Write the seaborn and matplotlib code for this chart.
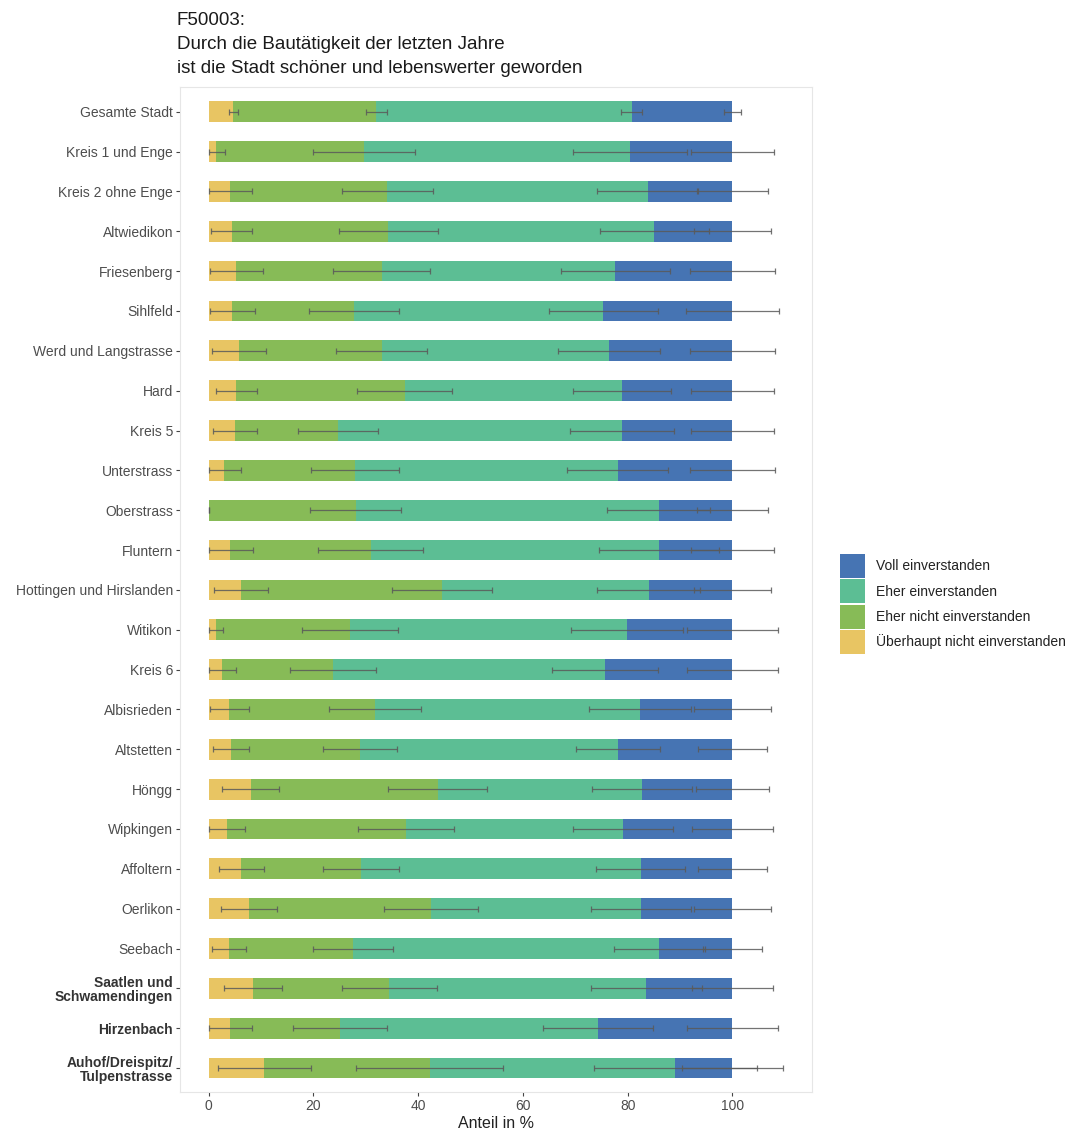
import numpy as np
import pandas as pd
import matplotlib
matplotlib.use("Agg")
import matplotlib.pyplot as plt
from matplotlib.patches import Patch
import seaborn as sns

sns.set_theme(style="white")
plt.rcParams["font.family"] = ["Liberation Sans", "DejaVu Sans"]

regions = [
    "Gesamte Stadt", "Kreis 1 und Enge", "Kreis 2 ohne Enge", "Altwiedikon",
    "Friesenberg", "Sihlfeld", "Werd und Langstrasse", "Hard", "Kreis 5",
    "Unterstrass", "Oberstrass", "Fluntern", "Hottingen und Hirslanden",
    "Witikon", "Kreis 6", "Albisrieden", "Altstetten", "Höngg", "Wipkingen",
    "Affoltern", "Oerlikon", "Seebach", "Saatlen und\nSchwamendingen",
    "Hirzenbach", "Auhof/Dreispitz/\nTulpenstrasse",
]
bold_regions = ["Saatlen und\nSchwamendingen", "Hirzenbach", "Auhof/Dreispitz/\nTulpenstrasse"]

categories = ["Überhaupt nicht einverstanden", "Eher nicht einverstanden",
              "Eher einverstanden", "Voll einverstanden"]

# shares in percent per answer category
share_ueberhaupt_nicht = [4.7, 1.4, 4.1, 4.4, 5.3, 4.5, 5.8, 5.3, 5.1, 2.9, 0.0, 4.0, 6.2,
                          1.3, 2.6, 3.9, 4.2, 8.0, 3.5, 6.2, 7.7, 3.9, 8.4, 4.0, 10.6]
share_eher_nicht = [27.3, 28.2, 30.0, 29.9, 27.7, 23.3, 27.2, 32.1, 19.6, 25.0, 28.1, 26.9, 38.3,
                    25.7, 21.2, 27.9, 24.7, 35.7, 34.2, 22.9, 34.7, 23.7, 26.1, 21.0, 31.6]
share_eher = [48.8, 50.8, 49.7, 50.8, 44.6, 47.5, 43.4, 41.5, 54.2, 50.2, 57.8, 55.1, 39.5,
              52.8, 51.8, 50.6, 49.2, 39.0, 41.4, 53.4, 40.1, 58.4, 49.0, 49.3, 46.9]
share_voll = [19.2, 19.6, 16.2, 14.9, 22.4, 24.7, 23.6, 21.1, 21.1, 21.9, 14.1, 14.0, 16.0,
              20.2, 24.4, 17.6, 21.9, 17.3, 20.9, 17.5, 17.5, 14.0, 16.5, 25.7, 10.9]

# confidence interval half-widths (percentage points)
ci_ueberhaupt_nicht = [0.8, 1.8, 4.2, 3.9, 5.0, 4.3, 5.2, 4.0, 4.2, 3.2, 0.0, 4.4, 5.2,
                       1.5, 2.7, 3.7, 3.4, 5.4, 3.5, 4.3, 5.3, 3.2, 5.5, 4.3, 8.9]
ci_eher_nicht = [2.0, 9.7, 8.7, 9.5, 9.2, 8.6, 8.7, 9.1, 7.7, 8.4, 8.7, 10.1, 9.6,
                 9.2, 8.2, 8.8, 7.0, 9.4, 9.2, 7.3, 9.0, 7.6, 9.0, 9.0, 14.0]
ci_eher = [2.0, 10.9, 9.6, 10.4, 10.4, 10.4, 9.7, 9.4, 10.0, 9.6, 9.9, 11.5, 9.8,
           10.7, 10.1, 9.7, 8.0, 9.5, 9.5, 8.5, 9.5, 8.7, 10.6, 10.5, 15.5]
ci_voll = [1.7, 8.0, 6.8, 7.4, 8.2, 8.8, 8.2, 7.9, 8.0, 8.2, 6.8, 7.9, 7.4,
           8.7, 8.7, 7.4, 6.6, 6.9, 7.7, 6.6, 7.4, 5.7, 7.7, 8.7, 9.7]

colors = ["#E8C563", "#87BB57", "#5CBE94", "#4674B3"]

shares = np.array([share_ueberhaupt_nicht, share_eher_nicht, share_eher, share_voll])
cis = np.array([ci_ueberhaupt_nicht, ci_eher_nicht, ci_eher, ci_voll])
cum = np.cumsum(shares, axis=0)

fig = plt.figure(figsize=(10.72, 11.33), dpi=100)
ax = fig.add_axes([180 / 1072, 1 - 1092 / 1133, (812 - 180) / 1072, (1092 - 87) / 1133])

# stacked bars: draw the cumulative totals from the outermost segment inwards
for k in range(3, -1, -1):
    df = pd.DataFrame({"region": regions, "value": cum[k]})
    sns.barplot(data=df, x="value", y="region", order=regions, orient="h",
                color=colors[k], saturation=1, width=0.52, ax=ax, errorbar=None,
                linewidth=0, edgecolor="none")

# error bars at the segment boundaries
ypos = np.arange(len(regions))
for k in range(4):
    lo = np.maximum(0, cum[k] - cis[k])
    hi = cum[k] + cis[k]
    ax.errorbar(cum[k], ypos, xerr=[cum[k] - lo, hi - cum[k]], fmt="none",
                ecolor="#5a5a5a", elinewidth=0.9, capsize=2.2, capthick=0.9, alpha=0.85)

xmax = float((cum[3] + cis[3]).max())
ax.set_xlim(-0.05 * xmax, xmax * 1.05)
ax.set_ylim(len(regions) - 0.4, -0.62)
ax.set_xticks([0, 20, 40, 60, 80, 100])
ax.set_ylabel("")
ax.set_xlabel("Anteil in %", fontsize=11.5, color="#222222", labelpad=2)

ax.tick_params(axis="both", which="major", length=3, width=0.8, color="#444444",
               labelsize=10, labelcolor="#4D4D4D", pad=2, left=True, bottom=True)
for lbl in ax.get_yticklabels():
    if lbl.get_text() in bold_regions:
        lbl.set_fontweight("bold")
        lbl.set_color("#333333")
        lbl.set_linespacing(1.05)

for sp in ax.spines.values():
    sp.set_color("#E6E6E6")
    sp.set_linewidth(0.8)
ax.grid(False)

fig.text(177 / 1072, 1 - 12 / 1133,
         "F50003:\nDurch die Bautätigkeit der letzten Jahre\nist die Stadt schöner und lebenswerter geworden",
         ha="left", va="top", fontsize=13.5, color="#1a1a1a", linespacing=1.55)

handles = [Patch(facecolor=colors[k], edgecolor="none", label=categories[k]) for k in range(3, -1, -1)]
fig.legend(handles=handles, loc="center left", bbox_to_anchor=(840 / 1072, 1 - 604 / 1133),
           frameon=False, fontsize=10, handlelength=1.8, handleheight=2.25,
           labelspacing=0.12, handletextpad=0.8, borderpad=0, borderaxespad=0,
           labelcolor="#222222")

fig.savefig("out.png", dpi=100)
